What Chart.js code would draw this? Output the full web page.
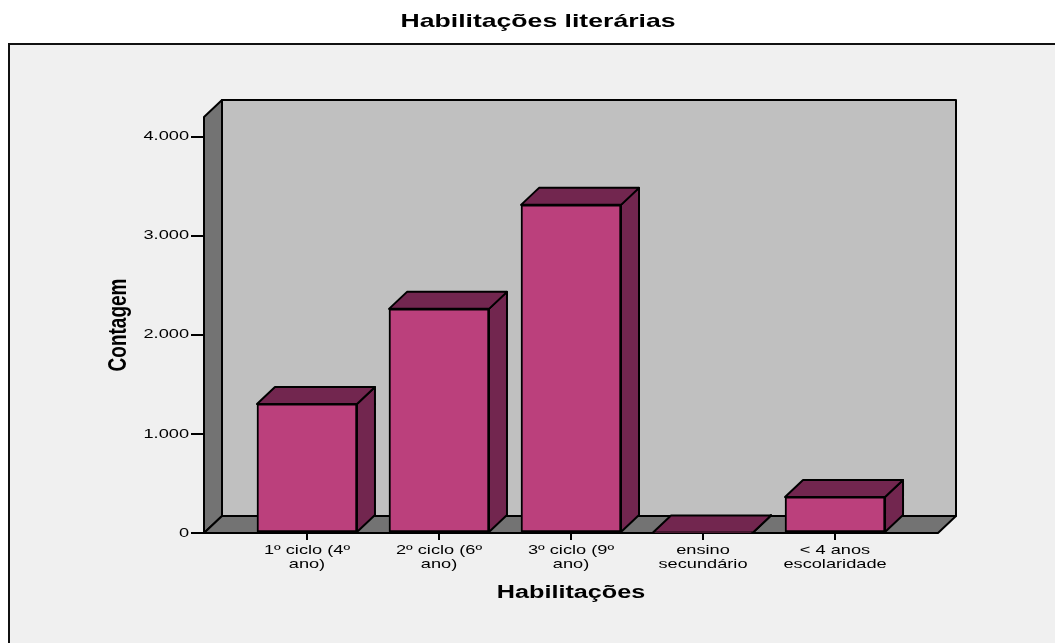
<!DOCTYPE html>
<html lang="pt">
<head>
<meta charset="utf-8">
<title>Habilitações literárias</title>
<script src="https://cdn.jsdelivr.net/npm/chart.js@4.4.1/dist/chart.umd.min.js"></script>
<style>
  html, body { margin: 0; padding: 0; background: #fff; }
  canvas { display: block; }
</style>
</head>
<body>
<canvas id="chart" width="1055" height="643"></canvas>
<script>
// contagem por nível de escolaridade
const categories = [
  ['1º ciclo (4º', 'ano)'],
  ['2º ciclo (6º', 'ano)'],
  ['3º ciclo (9º', 'ano)'],
  ['ensino', 'secundário'],
  ['< 4 anos', 'escolaridade']
];
const counts = [1303, 2263, 3313, 6, 364];
const yTicks = [0, 1000, 2000, 3000, 4000];

const FONT = "'Liberation Sans', Arial, Helvetica, sans-serif";
const FRONT = '#bb407c';
const SHADE = '#72264f';
const WALL = '#c0c0c0';
const SIDE = '#737373';
const DEPTH_X = 18;
const DEPTH_Y = 17;
const EDGE_W = 2;
const TEXT_STRETCH = 1.4; // SPSS-style wide lettering

const canvas = document.getElementById('chart');
const ctx = canvas.getContext('2d');

// stretch every label horizontally around its anchor point
const baseFillText = ctx.fillText.bind(ctx);
ctx.fillText = function (text, x, y, maxWidth) {
  const m = ctx.getTransform();
  const p = m.transformPoint(new DOMPoint(x, y));
  ctx.save();
  ctx.setTransform(new DOMMatrix()
    .translate(p.x, p.y).scale(TEXT_STRETCH, 1).translate(-p.x, -p.y)
    .multiply(m));
  if (maxWidth === undefined) baseFillText(text, x, y);
  else baseFillText(text, x, y, maxWidth);
  ctx.restore();
};

function fmt(v) {
  return String(v).replace(/\B(?=(\d{3})+(?!\d))/g, '.');
}

function poly(c, pts, fill) {
  c.beginPath();
  c.moveTo(pts[0][0], pts[0][1]);
  for (let i = 1; i < pts.length; i++) c.lineTo(pts[i][0], pts[i][1]);
  c.closePath();
  c.fillStyle = fill;
  c.fill();
  c.stroke();
}

// frame, walls, floor and the extruded sides of the bars
const box3d = {
  id: 'box3d',
  beforeDraw(chart) {
    const { ctx: c, width, height } = chart;
    c.save();
    c.fillStyle = '#fff';
    c.fillRect(0, 0, width, height);
    c.fillStyle = '#f0f0f0';
    c.fillRect(9, 44, width, height);
    c.strokeStyle = '#111';
    c.lineWidth = 2;
    c.beginPath();
    c.moveTo(9, height);
    c.lineTo(9, 44);
    c.lineTo(width, 44);
    c.stroke();
    c.restore();
  },
  beforeDatasetsDraw(chart) {
    const { ctx: c, chartArea: a } = chart;
    const dx = DEPTH_X, dy = DEPTH_Y;
    c.save();
    c.strokeStyle = '#000';
    c.lineWidth = EDGE_W;
    c.lineJoin = 'round';
    poly(c, [[a.left + dx, a.top - dy], [a.right + dx, a.top - dy],
             [a.right + dx, a.bottom - dy], [a.left + dx, a.bottom - dy]], WALL);
    poly(c, [[a.left, a.bottom], [a.left, a.top],
             [a.left + dx, a.top - dy], [a.left + dx, a.bottom - dy]], SIDE);
    poly(c, [[a.left, a.bottom], [a.right, a.bottom],
             [a.right + dx, a.bottom - dy], [a.left + dx, a.bottom - dy]], SIDE);
    chart.getDatasetMeta(0).data.forEach(bar => {
      const { x, y, base, width } = bar.getProps(['x', 'y', 'base', 'width'], true);
      const x0 = x - width / 2, x1 = x + width / 2;
      poly(c, [[x1, y], [x1 + dx, y - dy], [x1 + dx, base - dy], [x1, base]], SHADE);
      poly(c, [[x0, y], [x1, y], [x1 + dx, y - dy], [x0 + dx, y - dy]], SHADE);
    });
    c.restore();
  }
};

new Chart(ctx, {
  type: 'bar',
  data: {
    datasets: [{
      label: 'Contagem',
      data: counts.map((c, i) => ({ x: i, y: c })),
      backgroundColor: FRONT,
      borderColor: '#000',
      borderWidth: EDGE_W,
      borderSkipped: false,
      barThickness: 100
    }]
  },
  options: {
    responsive: false,
    animation: false,
    layout: { padding: { left: 138, right: 117, top: 0, bottom: 0 } },
    plugins: {
      legend: { display: false },
      tooltip: { enabled: false },
      title: {
        display: true,
        text: 'Habilitações literárias',
        color: '#000',
        font: { size: 19, weight: 'bold', family: FONT },
        padding: { top: 10.6, bottom: 83.6 }
      }
    },
    scales: {
      x: {
        type: 'linear',
        min: -0.78,
        max: 4.78,
        offset: false,
        afterBuildTicks: s => { s.ticks = categories.map((_, i) => ({ value: i })); },
        afterFit: s => { s.height = 110; },
        grid: { offset: false, drawOnChartArea: false, tickLength: 7, color: '#000', lineWidth: EDGE_W },
        border: { display: false },
        ticks: {
          padding: 4,
          color: '#000',
          maxRotation: 0,
          autoSkip: false,
          font: { size: 13, family: FONT, lineHeight: 1.05 },
          callback: v => categories[v]
        },
        title: {
          display: true,
          text: 'Habilitações',
          color: '#000',
          font: { size: 18, weight: 'bold', family: FONT },
          padding: { top: 0, bottom: 39 }
        }
      },
      y: {
        min: 0,
        max: 4200,
        afterBuildTicks: s => { s.ticks = yTicks.map(v => ({ value: v })); },
        afterFit: s => { s.width = 66; },
        grid: { drawOnChartArea: false, tickLength: 13, color: '#000', lineWidth: EDGE_W },
        border: { display: false },
        ticks: {
          padding: 2,
          color: '#000',
          font: { size: 13, family: FONT },
          callback: v => fmt(v)
        },
        title: {
          display: true,
          text: 'Contagem',
          color: '#000',
          font: { size: 19, weight: 'bold', family: FONT },
          padding: { top: -31, bottom: 0 }
        }
      }
    }
  },
  plugins: [box3d]
});
</script>
</body>
</html>
